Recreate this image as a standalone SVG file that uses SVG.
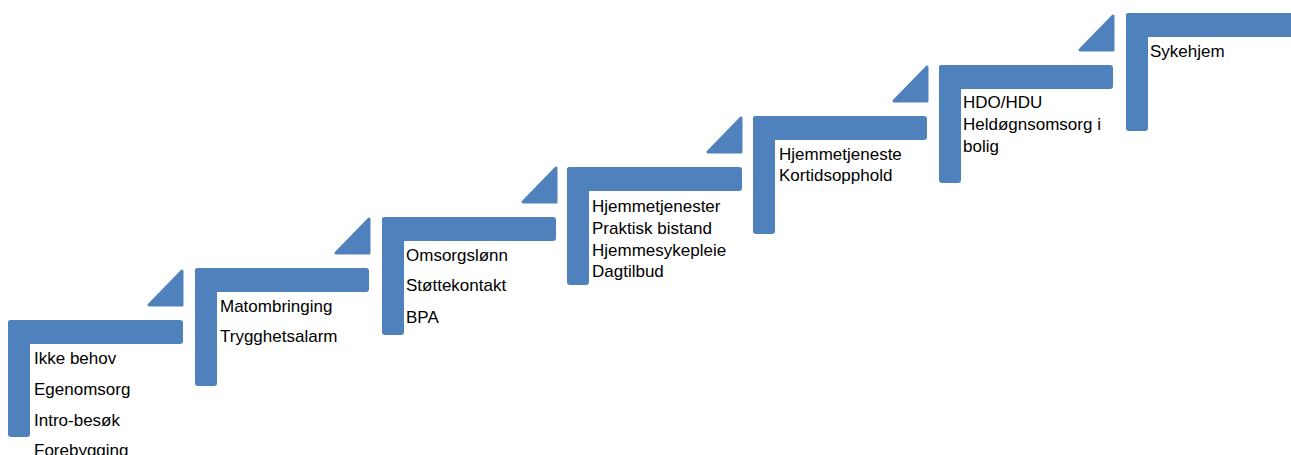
<svg xmlns="http://www.w3.org/2000/svg" width="1291" height="455" viewBox="0 0 1291 455">
<defs>
<style>
.bar{fill:#4F81BD}
.tri{fill:#4F81BD;stroke:#4F81BD;stroke-width:3;stroke-linejoin:round}
text{font-family:"Liberation Sans",Arial,sans-serif;font-size:17px;fill:#000}
</style>
</defs>
<rect width="1291" height="455" fill="#ffffff"/>
<g id="step1" transform="translate(8,320)">
<rect class="bar" x="0" y="0" width="175" height="24" rx="3"/>
<rect class="bar" x="0" y="0" width="22" height="117" rx="3"/>
<polygon class="tri" points="174,-49 141,-15 174,-15"/>
<text x="26" y="44">Ikke behov</text>
<text x="26" y="75">Egenomsorg</text>
<text x="26" y="105.5">Intro-besøk</text>
<text x="26" y="136">Forebygging</text>
</g>
<g id="step2" transform="translate(195,268)">
<rect class="bar" x="0" y="0" width="174" height="24" rx="3"/>
<rect class="bar" x="0" y="0" width="22" height="118" rx="3"/>
<polygon class="tri" points="174,-49 141,-15 174,-15"/>
<text x="25" y="44">Matombringing</text>
<text x="25" y="74">Trygghetsalarm</text>
</g>
<g id="step3" transform="translate(382,217)">
<rect class="bar" x="0" y="0" width="174" height="24" rx="3"/>
<rect class="bar" x="0" y="0" width="22" height="118" rx="3"/>
<polygon class="tri" points="174,-49 141,-15 174,-15"/>
<text x="24" y="44">Omsorgslønn</text>
<text x="24" y="74">Støttekontakt</text>
<text x="24" y="106">BPA</text>
</g>
<g id="step4" transform="translate(567,167)">
<rect class="bar" x="0" y="0" width="175" height="24" rx="3"/>
<rect class="bar" x="0" y="0" width="22" height="118" rx="3"/>
<polygon class="tri" points="174,-49 141,-15 174,-15"/>
<text x="25" y="45">Hjemmetjenester</text>
<text x="25" y="67">Praktisk bistand</text>
<text x="25" y="88.5">Hjemmesykepleie</text>
<text x="25" y="110">Dagtilbud</text>
</g>
<g id="step5" transform="translate(753,116)">
<rect class="bar" x="0" y="0" width="174" height="24" rx="3"/>
<rect class="bar" x="0" y="0" width="22" height="118" rx="3"/>
<polygon class="tri" points="174,-49 141,-15 174,-15"/>
<text x="26" y="44">Hjemmetjeneste</text>
<text x="26" y="65">Kortidsopphold</text>
</g>
<g id="step6" transform="translate(939,65)">
<rect class="bar" x="0" y="0" width="174" height="24" rx="3"/>
<rect class="bar" x="0" y="0" width="22" height="118" rx="3"/>
<polygon class="tri" points="174,-49 141,-15 174,-15"/>
<text x="24" y="43">HDO/HDU</text>
<text x="24" y="65">Heldøgnsomsorg i</text>
<text x="24" y="86.5">bolig</text>
</g>
<g id="step7" transform="translate(1126,13)">
<rect class="bar" x="0" y="0" width="180" height="24" rx="3"/>
<rect class="bar" x="0" y="0" width="22" height="118" rx="3"/>
<text x="24" y="44">Sykehjem</text>
</g>
<g id="connectors"/>
</svg>
